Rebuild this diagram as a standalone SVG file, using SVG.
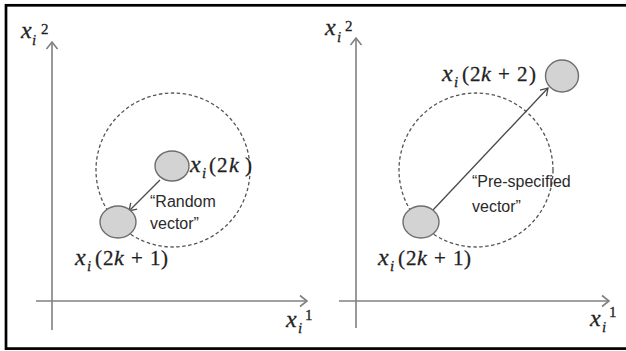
<svg xmlns="http://www.w3.org/2000/svg" width="626" height="351" viewBox="0 0 626 351">
<style>
.frame{fill:none;stroke:#000;stroke-width:2.7}
.axis{fill:none;stroke:#808080;stroke-width:1.6}
.dash{fill:none;stroke:#555;stroke-width:1.3;stroke-dasharray:3.5 2.5}
.node{fill:#d3d3d3;stroke:#6e6e6e;stroke-width:1.4}
.vec{fill:none;stroke:#4a4a4a;stroke-width:1.3}
.m{font-family:"Liberation Serif","Times New Roman",serif;font-size:21px;fill:#1f1f1f;stroke:#1f1f1f;stroke-width:0.3}
.it{font-style:italic}
.x{font-size:24px}
.k{font-size:22px}
.sub{font-size:15px}
.sup{font-size:15px}
.lab{font-family:"Liberation Sans",Arial,sans-serif;font-size:16px;fill:#2a2a2a}
</style>
<defs>
<marker id="ah" markerUnits="userSpaceOnUse" markerWidth="14" markerHeight="14" refX="8" refY="6" orient="auto" viewBox="0 0 14 12">
<path d="M1,0.5 L8,6 L1,11.5" fill="none" stroke="#808080" stroke-width="1.6"/>
</marker>
<marker id="vh" markerUnits="userSpaceOnUse" markerWidth="12" markerHeight="12" refX="8" refY="5" orient="auto" viewBox="0 0 12 10">
<path d="M1,0.5 L8,5 L1,9.5" fill="none" stroke="#4a4a4a" stroke-width="1.3"/>
</marker>
</defs>
<rect class="frame" x="6" y="5.3" width="640" height="343.3"/>
<g id="axes-left">
<line class="axis" x1="52" y1="330" x2="52" y2="42" marker-end="url(#ah)"/>
<line class="axis" x1="36" y1="301" x2="307" y2="301" marker-end="url(#ah)"/>
<text class="m"><tspan class="it x" x="21" y="38">x</tspan><tspan class="it sub" x="32" y="45">i</tspan><tspan class="sup" x="41" y="34">2</tspan></text>
<text class="m"><tspan class="it x" x="286" y="327">x</tspan><tspan class="it sub" x="298" y="333">i</tspan><tspan class="sup" x="305" y="320">1</tspan></text>
</g>
<g id="axes-right">
<line class="axis" x1="356" y1="328" x2="356" y2="38" marker-end="url(#ah)"/>
<line class="axis" x1="339" y1="301" x2="609" y2="301" marker-end="url(#ah)"/>
<text class="m"><tspan class="it x" x="325" y="35">x</tspan><tspan class="it sub" x="337" y="42">i</tspan><tspan class="sup" x="345" y="31">2</tspan></text>
<text class="m"><tspan class="it x" x="590" y="326">x</tspan><tspan class="it sub" x="602" y="332">i</tspan><tspan class="sup" x="609" y="317">1</tspan></text>
</g>
<g id="region-left"><circle class="dash" cx="173" cy="170" r="77"/></g>
<g id="region-right"><circle class="dash" cx="476" cy="170" r="77"/></g>
<g id="connectors">
<line class="vec" x1="160" y1="180" x2="129" y2="211" marker-end="url(#vh)"/>
<line class="vec" x1="433" y1="210" x2="548" y2="88" marker-end="url(#vh)"/>
</g>
<g id="node-left-2k">
<ellipse class="node" cx="172" cy="166" rx="17" ry="15"/>
<text class="m"><tspan class="it x" x="190" y="172">x</tspan><tspan class="it sub" x="202" y="178">i</tspan><tspan x="209" y="172">(</tspan><tspan x="217" y="172">2</tspan><tspan class="it k" x="229" y="172">k</tspan><tspan x="245" y="172">)</tspan></text>
</g>
<g id="node-left-2k1">
<ellipse class="node" cx="118" cy="222" rx="18" ry="16"/>
<text class="m"><tspan class="it x" x="75" y="265">x</tspan><tspan class="it sub" x="87" y="271">i</tspan><tspan x="95" y="265">(</tspan><tspan x="103" y="265">2</tspan><tspan class="it k" x="114" y="265">k</tspan><tspan x="131" y="265">+</tspan><tspan x="150" y="265">1</tspan><tspan x="161" y="265">)</tspan></text>
<text class="lab" x="150" y="207">“Random</text>
<text class="lab" x="150" y="229">vector”</text>
</g>
<g id="node-right-2k1">
<ellipse class="node" cx="421" cy="222" rx="18" ry="16"/>
<text class="m"><tspan class="it x" x="378" y="265">x</tspan><tspan class="it sub" x="390" y="271">i</tspan><tspan x="398" y="265">(</tspan><tspan x="406" y="265">2</tspan><tspan class="it k" x="417" y="265">k</tspan><tspan x="434" y="265">+</tspan><tspan x="453" y="265">1</tspan><tspan x="464" y="265">)</tspan></text>
</g>
<g id="node-right-2k2">
<ellipse class="node" cx="562" cy="76" rx="16.5" ry="16"/>
<text class="m"><tspan class="it x" x="442" y="81">x</tspan><tspan class="it sub" x="454" y="87">i</tspan><tspan x="462" y="81">(</tspan><tspan x="470" y="81">2</tspan><tspan class="it k" x="481" y="81">k</tspan><tspan x="498" y="81">+</tspan><tspan x="517" y="81">2</tspan><tspan x="529" y="81">)</tspan></text>
<text class="lab" x="472" y="187">“Pre-specified</text>
<text class="lab" x="472" y="212">vector”</text>
</g>
</svg>
